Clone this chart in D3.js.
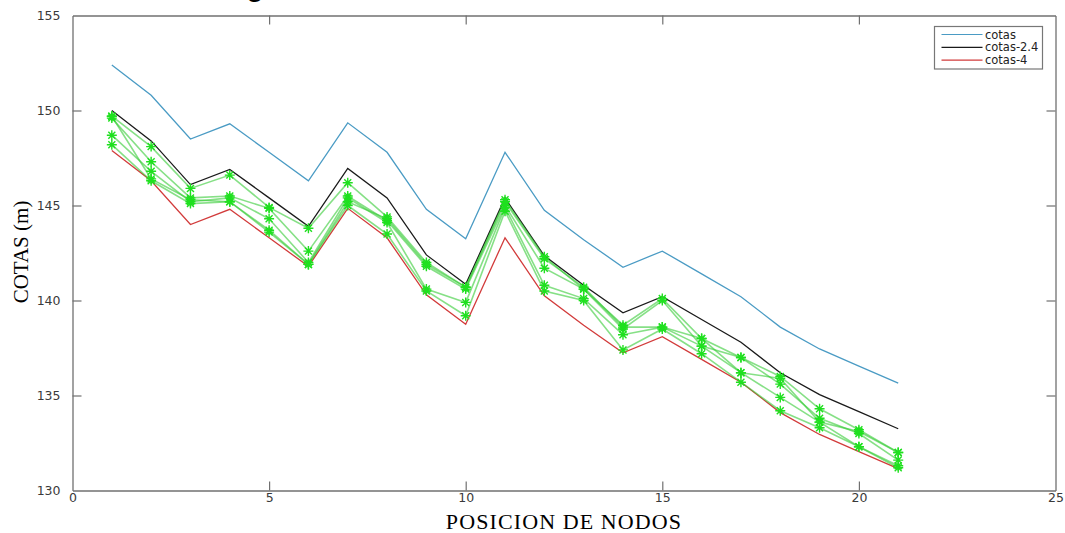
<!DOCTYPE html>
<html>
<head>
<meta charset="utf-8">
<script src="https://cdn.jsdelivr.net/npm/d3@7/dist/d3.min.js"></script>
<style>
  html, body { margin: 0; padding: 0; background: #fff; }
  svg { display: block; }
</style>
</head>
<body>
<div id="chart"></div>
<script>
// ---------------- DATA ----------------
const nodes = [1,2,3,4,5,6,7,8,9,10,11,12,13,14,15,16,17,18,19,20,21];
const cotas    = [152.4,150.8,148.5,149.3,147.8,146.3,149.35,147.8,144.8,143.25,147.8,144.75,143.2,141.75,142.6,141.4,140.2,138.6,137.45,136.55,135.65];
const cotas24  = [150.0,148.4,146.1,146.9,145.4,143.9,146.95,145.4,142.4,140.85,145.4,142.35,140.8,139.35,140.2,139.0,137.8,136.2,135.05,134.15,133.25];
const cotas4   = [147.9,146.3,144.0,144.8,143.3,141.8,144.85,143.3,140.3,138.75,143.3,140.25,138.7,137.25,138.1,136.9,135.7,134.1,132.95,132.05,131.15];
const sol1 = [149.7,148.1,145.9,146.6,144.9,143.8,146.2,144.4,142.0,140.7,145.3,142.3,140.6,138.7,140.1,138.0,137.0,136.0,134.3,133.2,132.0];
const sol2 = [149.6,147.3,145.4,145.5,144.85,142.6,145.5,144.2,141.8,140.6,145.0,141.7,140.6,138.5,140.0,137.6,137.0,135.6,133.8,133.0,131.6];
const sol3 = [148.7,146.8,145.2,145.4,144.3,142.0,145.4,144.1,140.6,139.9,144.9,140.8,140.1,138.2,138.6,137.6,136.2,134.9,133.6,132.3,131.3];
const sol4 = [148.2,146.3,145.1,145.2,143.7,141.9,145.0,143.5,140.5,139.2,144.7,140.5,140.0,137.4,138.5,137.2,135.7,134.2,133.3,132.3,131.2];
const sol5 = [149.7,146.4,145.3,145.2,143.6,141.9,145.2,144.3,141.9,140.7,145.2,142.2,140.7,138.6,138.6,138.0,136.2,135.9,133.6,133.1,132.0];
const xTicks = [0,5,10,15,20,25];
const yTicks = [130,135,140,145,150,155];
const legendLabels = ["cotas","cotas-2.4","cotas-4"];
const lineColors = ["#4a9bc4","#1a1a1a","#d23b3b"];
const mainSeries = [cotas, cotas24, cotas4];
const greenSeries = [sol1, sol2, sol3, sol4, sol5];

// ---------------- LAYOUT ----------------
const W = 1065, H = 533;
const L = 72.5, R = 1055.5, T = 15.5, B = 490.5;

const svg = d3.select("#chart").append("svg")
  .attr("width", W).attr("height", H);

const x = d3.scaleLinear().domain([0,25]).range([L,R]);
const y = d3.scaleLinear().domain([130,155]).range([B,T]);

// cut-off title fragment (only the descender is visible in the reference)
svg.append("text")
  .attr("x", 255).attr("y", -4)
  .attr("text-anchor","middle")
  .attr("font-family","Liberation Sans, Arial, sans-serif")
  .attr("font-weight","bold")
  .attr("font-size", 28)
  .attr("fill","#000")
  .text("g");

const axisColor = "#707070";
const tickFont = "DejaVu Sans, sans-serif";

// axes (ticks inward)
const gxB = svg.append("g").attr("transform",`translate(0,${B})`)
  .call(d3.axisBottom(x).tickValues(xTicks).tickSizeInner(-9).tickSizeOuter(0).tickPadding(3));
const gxT = svg.append("g").attr("transform",`translate(0,${T})`)
  .call(d3.axisTop(x).tickValues(xTicks).tickSizeInner(-9).tickSizeOuter(0).tickFormat(""));
const gyL = svg.append("g").attr("transform",`translate(${L},0)`)
  .call(d3.axisLeft(y).tickValues(yTicks).tickSizeInner(-9).tickSizeOuter(0).tickPadding(14));
const gyR = svg.append("g").attr("transform",`translate(${R},0)`)
  .call(d3.axisRight(y).tickValues(yTicks).tickSizeInner(-9).tickSizeOuter(0).tickFormat(""));

[gxB,gxT,gyL,gyR].forEach(g => {
  g.select(".domain").attr("stroke", axisColor).attr("stroke-width", 1.3);
  g.selectAll(".tick line").attr("stroke", axisColor).attr("stroke-width", 1.2);
  g.selectAll(".tick text").attr("fill","#3a3a3a").attr("font-family",tickFont).attr("font-size",12.5);
});
[gxB,gxT].forEach(g => g.selectAll(".tick").filter(d => d===0 || d===25).select("line").remove());
[gyL,gyR].forEach(g => g.selectAll(".tick").filter(d => d===130 || d===155).select("line").remove());
gyL.selectAll(".tick text").attr("dx","2");

// axis labels
svg.append("text")
  .attr("x", 564).attr("y", 529)
  .attr("text-anchor","middle")
  .attr("font-family","Liberation Serif, Times New Roman, serif")
  .attr("font-size", 22)
  .attr("letter-spacing", 1.1)
  .attr("fill","#000")
  .text("POSICION DE NODOS");
svg.append("text")
  .attr("transform", `translate(28,252) rotate(-90)`)
  .attr("text-anchor","middle")
  .attr("font-family","Liberation Serif, Times New Roman, serif")
  .attr("font-size", 21)
  .attr("fill","#000")
  .text("COTAS (m)");

const line = d3.line().x((d,i) => x(nodes[i])).y(d => y(d));

// main lines
mainSeries.forEach((s,k) => {
  svg.append("path").datum(s)
    .attr("d", line)
    .attr("fill","none")
    .attr("stroke", lineColors[k])
    .attr("stroke-width", 1.3);
});

// green solution lines
greenSeries.forEach(s => {
  svg.append("path").datum(s)
    .attr("d", line)
    .attr("fill","none")
    .attr("stroke", "#36cc36")
    .attr("stroke-opacity", 0.6)
    .attr("stroke-width", 1.6);
});

// asterisk markers
const ms = 5;
const starPath = `M${-ms},0L${ms},0M0,${-ms}L0,${ms}M${-ms*0.7},${-ms*0.7}L${ms*0.7},${ms*0.7}M${-ms*0.7},${ms*0.7}L${ms*0.7},${-ms*0.7}`;
greenSeries.forEach(s => {
  svg.append("g").selectAll("path").data(s).join("path")
    .attr("transform", (d,i) => `translate(${x(nodes[i])},${y(d)})`)
    .attr("d", starPath)
    .attr("fill","none")
    .attr("stroke","#1fe01f")
    .attr("stroke-width", 1.4);
});

// legend
const lg = svg.append("g");
lg.append("rect")
  .attr("x", 934.5).attr("y", 26.5).attr("width", 108).attr("height", 42.5)
  .attr("fill","#fff").attr("stroke","#777").attr("stroke-width",1.2);
legendLabels.forEach((lab,k) => {
  const yy = 34.5 + k*12.8;
  lg.append("line").attr("x1", 941.5).attr("x2", 982.5).attr("y1", yy).attr("y2", yy)
    .attr("stroke", lineColors[k]).attr("stroke-width", 1.2);
  lg.append("text").attr("x", 985).attr("y", yy).attr("dy","0.35em")
    .attr("font-family", tickFont).attr("font-size", 11.5).attr("fill","#222")
    .text(lab);
});
</script>
</body>
</html>
